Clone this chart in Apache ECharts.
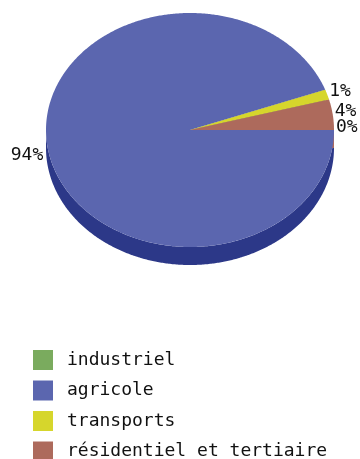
<!DOCTYPE html>
<html>
<head>
<meta charset="utf-8">
<script src="https://cdn.jsdelivr.net/npm/echarts@6/dist/echarts.min.js"></script>
<style>
  html, body { margin: 0; padding: 0; background: #fff; }
  #chart { width: 360px; height: 459px; }
</style>
</head>
<body>
<div id="chart"></div>
<script>
// Energy consumption by sector (percent shares)
const categories = ['industriel', 'agricole', 'transports', 'résidentiel et tertiaire'];
const shares = [0, 94.4, 1.4, 4.2];
const topColors = ['#7aab5e', '#5b66af', '#d6d62c', '#ad6a5c'];
const sideColors = ['#4e7a3a', '#2c3888', '#9c9c16', '#7e463a'];

// Elliptical "3D" pie geometry
const CX = 190, CY = 130, RX = 144, RY = 117, DEPTH = 18;
const FONT = 'DejaVu Sans Mono';

const total = shares.reduce((a, b) => a + b, 0);
const starts = [];
shares.reduce((acc, v, i) => { starts[i] = acc; return acc + v; }, 0);

const toDeg = v => v / total * 360;
function pt(deg, dy) {
  const r = deg * Math.PI / 180;
  return [CX + RX * Math.cos(r), CY + RY * Math.sin(r) + (dy || 0)];
}
function arc(a0, a1, dy) {
  const pts = [];
  const n = Math.max(2, Math.ceil((a1 - a0) / 0.5));
  for (let k = 0; k <= n; k++) pts.push(pt(a0 + (a1 - a0) * k / n, dy));
  return pts;
}

// Side walls and cut faces, drawn beneath the top faces
const sideSeries = {
  type: 'custom',
  name: '__side',
  coordinateSystem: 'none',
  silent: true,
  z: 1,
  data: shares.map((v, i) => [starts[i], v, i]),
  renderItem: function (params, api) {
    const a0 = toDeg(api.value(0));
    const a1 = a0 + toDeg(api.value(1));
    const idx = api.value(2);
    const children = [];
    if (a1 <= a0) return { type: 'group', children };
    const s = Math.max(a0, 0), e = Math.min(a1, 180);
    if (e > s) {
      const top = arc(s, e, 0);
      const bottom = arc(s, e, DEPTH).reverse();
      children.push({ type: 'polygon', z2: 1, shape: { points: top.concat(bottom) },
        style: { fill: sideColors[idx] } });
    }
    const face = (ang) => {
      const p = pt(ang, 0), q = pt(ang, DEPTH);
      children.push({ type: 'polygon', z2: 2,
        shape: { points: [[CX, CY], p, q, [CX, CY + DEPTH]] },
        style: { fill: topColors[idx] } });
    };
    if (Math.cos(a1 * Math.PI / 180) > 0) face(a1);
    if (Math.cos(a0 * Math.PI / 180) < 0) face(a0);
    return { type: 'group', children };
  }
};

// One series per sector: top face plus its percentage label
const topSeries = categories.map((name, i) => ({
  type: 'custom',
  name: name,
  coordinateSystem: 'none',
  z: 2,
  itemStyle: { color: topColors[i] },
  data: [[starts[i], shares[i]]],
  renderItem: function (params, api) {
    const a0 = toDeg(api.value(0));
    const a1 = a0 + toDeg(api.value(1));
    const mid = (a0 + a1) / 2;
    const children = [];
    if (a1 > a0) {
      children.push({ type: 'polygon', z2: 1,
        shape: { points: [[CX, CY]].concat(arc(a0, a1, 0)) },
        style: { fill: topColors[i] } });
    }
    const c = Math.cos(mid * Math.PI / 180);
    const left = c < 0;
    const p = pt(mid, 0);
    children.push({ type: 'text', z2: 5,
      x: p[0] + (left ? -5 : 2), y: p[1] + (left ? 5 : -3),
      style: { text: Math.round(api.value(1)) + '%', fill: '#111',
        font: '18px "' + FONT + '"',
        align: left ? 'right' : 'left', verticalAlign: 'middle' } });
    return { type: 'group', children };
  }
}));

const chart = echarts.init(document.getElementById('chart'), null, { renderer: 'canvas' });
chart.setOption({
  animation: false,
  backgroundColor: '#fff',
  legend: {
    data: categories,
    orient: 'vertical',
    left: 33,
    top: 350,
    height: 140,
    icon: 'rect',
    itemWidth: 20,
    itemHeight: 20,
    itemGap: 10.5,
    padding: 0,
    textStyle: { fontFamily: FONT, fontSize: 18, color: '#111', padding: [0, 0, 0, 9] }
  },
  series: [sideSeries].concat(topSeries)
});
</script>
</body>
</html>
